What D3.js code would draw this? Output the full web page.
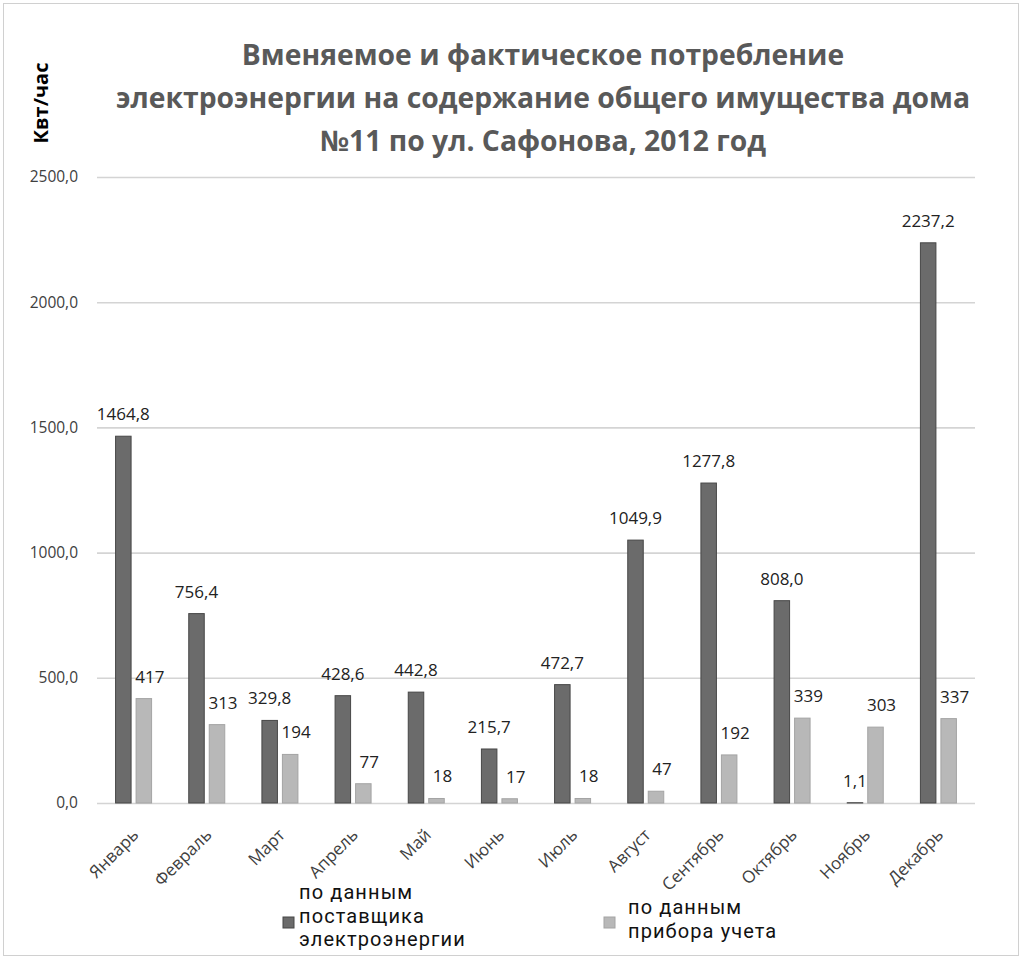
<!DOCTYPE html>
<html>
<head>
<meta charset="utf-8">
<script src="https://cdn.jsdelivr.net/npm/d3@7"></script>
<style>
  body { margin: 0; background: #fff; }
  svg { display: block; }
</style>
</head>
<body>
<script>
var months = ["Январь", "Февраль", "Март", "Апрель", "Май", "Июнь", "Июль", "Август", "Сентябрь", "Октябрь", "Ноябрь", "Декабрь"];
var supplierValues = [1464.8, 756.4, 329.8, 428.6, 442.8, 215.7, 472.7, 1049.9, 1277.8, 808.0, 1.1, 2237.2];
var meterValues = [417, 313, 194, 77, 18, 17, 18, 47, 192, 339, 303, 337];
var yTicks = [0, 500, 1000, 1500, 2000, 2500];
var titleLines = ["Вменяемое и фактическое потребление", "электроэнергии на содержание общего имущества дома", "№11 по ул. Сафонова, 2012 год"];
var supplierLegend = ["по данным", "поставщика", "электроэнергии"];
var meterLegend = ["по данным", "прибора учета"];

var svgWidth = 1024, svgHeight = 961;
var margin = {top: 177, right: 49, bottom: 158, left: 97};
var width = svgWidth - margin.left - margin.right;
var height = svgHeight - margin.top - margin.bottom;

var svg = d3.select("body").append("svg")
    .attr("width", svgWidth)
    .attr("height", svgHeight);

// рамка
svg.append("rect")
  .attr("x", 3.5).attr("y", 3.5)
  .attr("width", 1015).attr("height", 952)
  .attr("fill", "#fff")
  .attr("stroke", "#d0d0d0");

// заголовок
svg.append("text")
  .attr("text-anchor", "middle")
  .attr("font-family", "Open Sans")
  .attr("font-weight", "bold")
  .attr("font-size", 28.3)
  .attr("fill", "#595959")
  .selectAll("tspan")
  .data(titleLines)
  .enter()
  .append("tspan")
  .attr("x", 543)
  .attr("y", function(d, i){ return 65 + i * 43; })
  .text(function(d){ return d; });

svg.append("text")
  .attr("transform", "translate(48,103) rotate(-90)")
  .attr("text-anchor", "middle")
  .attr("font-family", "Open Sans")
  .attr("font-weight", "bold")
  .attr("font-size", 20)
  .attr("fill", "#000")
  .text("Квт/час");

var g = svg.append("g")
    .attr("transform", "translate(" + margin.left + "," + margin.top + ")");

var x = d3.scaleBand()
    .domain(months)
    .range([0, width]);

var y = d3.scaleLinear()
    .domain([0, 2500])
    .range([height, 0]);

var barWidth = 15.5, barGap = 5;
var fmt = function(d){ return d3.format(".1f")(d).replace(".", ","); };

// сетка и подписи оси Y
var yAxis = g.append("g")
  .call(d3.axisLeft(y)
    .tickValues(yTicks)
    .tickSize(-width)
    .tickPadding(19)
    .tickFormat(fmt));
yAxis.select(".domain").remove();
yAxis.selectAll(".tick line").attr("stroke", "#d4d4d4").attr("stroke-width", 1.6);
yAxis.selectAll(".tick text")
  .attr("font-family", "Open Sans")
  .attr("font-size", 15.5)
  .attr("fill", "#404040");

// подписи месяцев
var xAxis = g.append("g")
  .attr("transform", "translate(0," + height + ")")
  .call(d3.axisBottom(x).tickSize(0).tickPadding(0));
xAxis.select(".domain").remove();
xAxis.selectAll(".tick text")
  .attr("font-family", "Open Sans")
  .attr("font-size", 17)
  .attr("fill", "#404040")
  .attr("text-anchor", "end")
  .attr("dy", 0)
  .attr("transform", "translate(6,33) rotate(-45)");

g.selectAll(".supplier")
  .data(supplierValues)
  .enter()
  .append("rect")
  .attr("class", "supplier")
  .attr("x", function(d, i){ return x(months[i]) + x.bandwidth() / 2 - barGap / 2 - barWidth; })
  .attr("y", function(d){ return y(d); })
  .attr("width", barWidth)
  .attr("height", function(d){ return height - y(d); })
  .attr("fill", "#6b6b6b")
  .attr("stroke", "#474747")
  .attr("stroke-width", 1);

g.selectAll(".meter")
  .data(meterValues)
  .enter()
  .append("rect")
  .attr("class", "meter")
  .attr("x", function(d, i){ return x(months[i]) + x.bandwidth() / 2 + barGap / 2; })
  .attr("y", function(d){ return y(d); })
  .attr("width", barWidth)
  .attr("height", function(d){ return height - y(d); })
  .attr("fill", "#b8b8b8")
  .attr("stroke", "#a4a4a4")
  .attr("stroke-width", 1);

// подписи значений
g.selectAll(".supplierLabel")
  .data(supplierValues)
  .enter()
  .append("text")
  .attr("x", function(d, i){ return x(months[i]) + x.bandwidth() / 2 - barGap / 2 - barWidth / 2; })
  .attr("y", function(d){ return y(d) - 16; })
  .attr("text-anchor", "middle")
  .attr("font-family", "Open Sans")
  .attr("font-size", 17)
  .attr("fill", "#222")
  .text(fmt);

g.selectAll(".meterLabel")
  .data(meterValues)
  .enter()
  .append("text")
  .attr("x", function(d, i){ return x(months[i]) + x.bandwidth() / 2 + barGap / 2 + barWidth / 2 + 6; })
  .attr("y", function(d){ return y(d) - 16; })
  .attr("text-anchor", "middle")
  .attr("font-family", "Open Sans")
  .attr("font-size", 17)
  .attr("fill", "#222")
  .text(function(d){ return d; });

// легенда
svg.append("rect")
  .attr("x", 283).attr("y", 917)
  .attr("width", 11).attr("height", 11)
  .attr("fill", "#6b6b6b").attr("stroke", "#474747");
svg.selectAll(".supplierLegend")
  .data(supplierLegend)
  .enter()
  .append("text")
  .attr("x", 299)
  .attr("y", function(d, i){ return 899 + i * 23.5; })
  .attr("font-family", "Roboto")
  .attr("font-size", 20)
  .attr("letter-spacing", 1.1)
  .attr("fill", "#111")
  .text(function(d){ return d; });

svg.append("rect")
  .attr("x", 604).attr("y", 917)
  .attr("width", 11).attr("height", 11)
  .attr("fill", "#b8b8b8").attr("stroke", "#a4a4a4");
svg.selectAll(".meterLegend")
  .data(meterLegend)
  .enter()
  .append("text")
  .attr("x", 628)
  .attr("y", function(d, i){ return 914 + i * 23.5; })
  .attr("font-family", "Roboto")
  .attr("font-size", 20)
  .attr("letter-spacing", 1.1)
  .attr("fill", "#111")
  .text(function(d){ return d; });
</script>
</body>
</html>
